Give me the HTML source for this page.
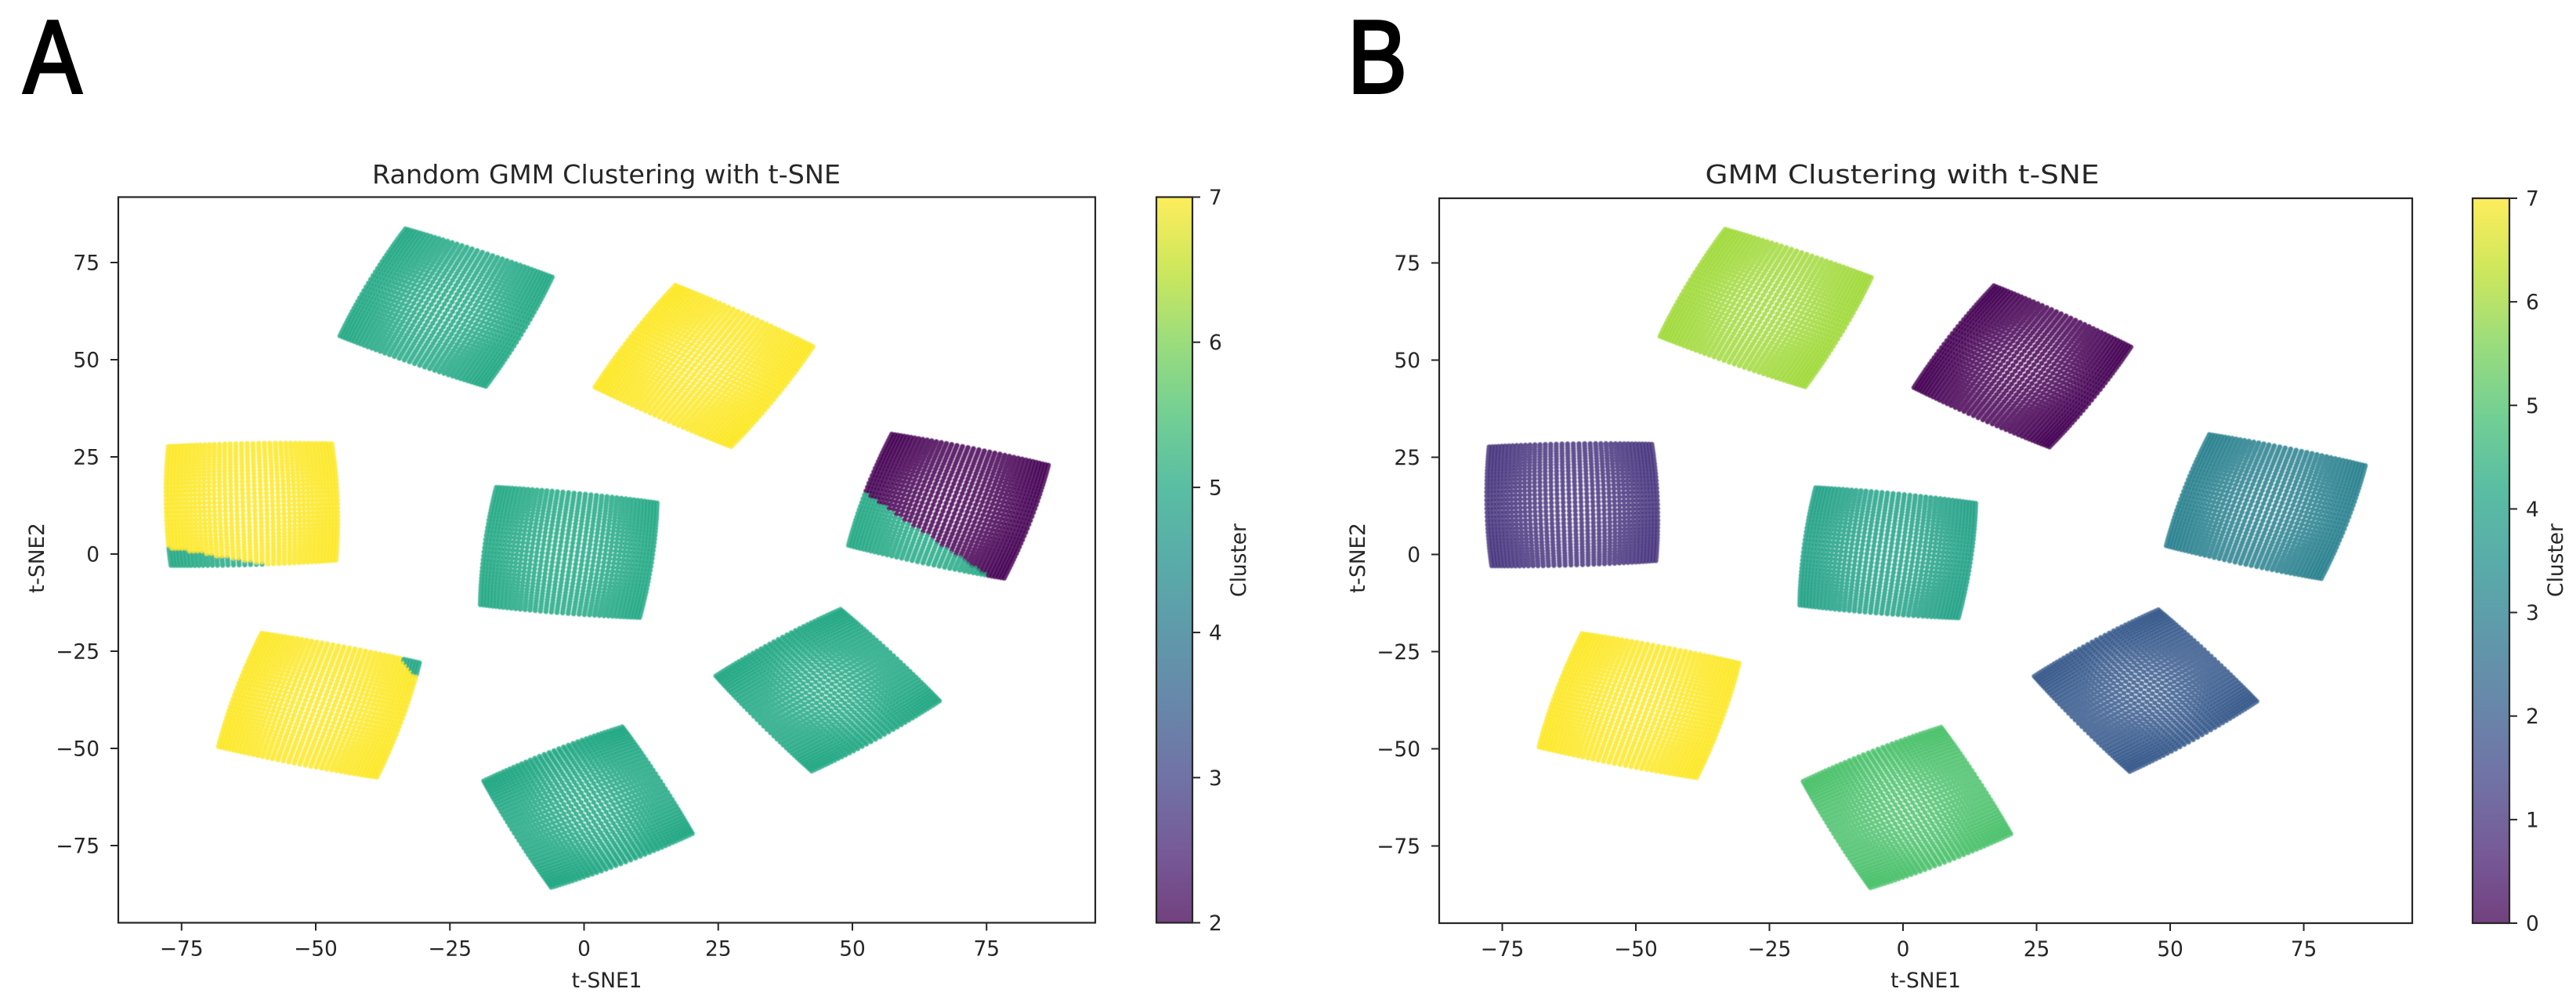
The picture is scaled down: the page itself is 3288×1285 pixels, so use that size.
<!DOCTYPE html>
<html lang="en">
<head>
<meta charset="utf-8">
<title>GMM Clustering with t-SNE</title>
<style>
html,body{margin:0;padding:0;background:#fff;width:3288px;height:1285px;overflow:hidden}
svg{display:block}
text{font-family:"DejaVu Sans","Liberation Sans",sans-serif;fill:#262626}
</style>
</head>
<body>
<svg id="figure" xmlns="http://www.w3.org/2000/svg" width="3288" height="1285" viewBox="0 0 3288 1285">
<defs><filter id="soften" x="-2%" y="-2%" width="104%" height="104%"><feGaussianBlur stdDeviation="0.6"/></filter></defs>
<text transform="translate(67 118) scale(.84 1)" text-anchor="middle" font-size="132" stroke="#000" stroke-width="4" style="font-family:'Liberation Sans',sans-serif;fill:#000">A</text>
<text transform="translate(1758 118) scale(.86 1)" text-anchor="middle" font-size="132" stroke="#000" stroke-width="4" style="font-family:'Liberation Sans',sans-serif;fill:#000">B</text>
</svg>
<script>
// ---- chart data (data units) ----
const clusterCornersX = [
  [-33.6, -5.1, -18.0, -46.3],
  [16.8, 43.5, 27.6, 1.2],
  [56.9, 87.3, 78.7, 48.5],
  [-78.1, -46.4, -45.6, -77.6],
  [-16.9, 14.3, 10.9, -20.0],
  [-60.5, -29.9, -38.2, -68.9],
  [7.4, 21.0, -6.4, -19.5],
  [47.9, 67.1, 42.3, 23.7]
];
const clusterCornersY = [
  [84.5, 71.6, 42.3, 55.8],
  [70.0, 53.6, 26.8, 42.7],
  [31.6, 23.3, -7.0, 1.8],
  [28.3, 29.0, -2.2, -3.6],
  [17.9, 13.7, -17.0, -13.6],
  [-19.6, -27.5, -58.2, -50.0],
  [-43.6, -72.2, -86.6, -58.1],
  [-13.4, -37.9, -56.7, -31.2]
];
const labelsRandomGmm = [5, 7, 2, 7, 5, 7, 5, 5];
const labelsGmm = [6, 0, 3, 1, 4, 7, 5, 2];
// Panel A: clusters whose points are partly reassigned, and the boundary line in data units
const splitClusters = [2, 3, 5];
const splitLabels = [5, 5, 5];
const splitStartX = [51.7, -78.2, -30.6];
const splitStartY = [16.1, 1.8, -32.9];
const splitEndX = [75.4, -56.9, -35.0];
const splitEndY = [-6.0, -3.2, -25.5];
const xTicks = [-75, -50, -25, 0, 25, 50, 75];
const yTicks = [-75, -50, -25, 0, 25, 50, 75];
const colorbarTicksA = [2, 3, 4, 5, 6, 7];
const colorbarTicksB = [0, 1, 2, 3, 4, 5, 6, 7];
const viridis = ['#440154','#482475','#414487','#355f8d','#2a788e','#21918c','#22a884','#44bf70','#7ad151','#bddf26','#fde725'];

// ---- layout ----
const NS = 'http://www.w3.org/2000/svg';
const svg = document.getElementById('figure');
const LATTICE = 38, DOT = 6.4, ALPHA = 0.85, INK = '#262626';

function node(tag, attrs, parent) {
  const e = document.createElementNS(NS, tag);
  for (const k in attrs) e.setAttribute(k, attrs[k]);
  parent.appendChild(e);
  return e;
}
function fmt(v) { return v < 0 ? '\u2212' + Math.abs(v) : String(v); }
function hexRgb(h) { return [1, 3, 5].map(i => parseInt(h.substr(i, 2), 16)); }
function viridisAt(t) {
  const p = Math.max(0, Math.min(1, t)) * (viridis.length - 1);
  const i = Math.min(viridis.length - 2, Math.floor(p));
  const a = hexRgb(viridis[i]), b = hexRgb(viridis[i + 1]), f = p - i;
  return 'rgb(' + a.map((c, k) => Math.round(c + (b[k] - c) * f)).join(',') + ')';
}
function warp(t) { return 0.022 + 0.956 * (t - 0.3 * Math.sin(2 * Math.PI * t) / (2 * Math.PI)); }
function latticePoint(c, i, j) {
  const u0 = i / (LATTICE - 1), v0 = j / (LATTICE - 1);
  const u = warp(u0), v = warp(v0);
  const X = clusterCornersX[c], Y = clusterCornersY[c];
  const bil = P => P[0] * (1 - u) * (1 - v) + P[1] * u * (1 - v) + P[2] * u * v + P[3] * (1 - u) * v;
  const du = P => ((P[1] + P[2]) - (P[0] + P[3])) / 2;
  const dv = P => ((P[2] + P[3]) - (P[0] + P[1])) / 2;
  const bu = 0.024 * (2 * u - 1) * (1 - (2 * v - 1) * (2 * v - 1));
  const bv = 0.016 * (2 * v - 1) * (1 - (2 * u - 1) * (2 * u - 1));
  return [bil(X) + bu * du(X) + bv * dv(X), bil(Y) + bu * du(Y) + bv * dv(Y)];
}
function pointLabel(c, p, labels, useSplits) {
  if (useSplits) {
    const s = splitClusters.indexOf(c);
    if (s >= 0) {
      const dx = splitEndX[s] - splitStartX[s], dy = splitEndY[s] - splitStartY[s];
      if (dx * (p[1] - splitStartY[s]) - dy * (p[0] - splitStartX[s]) < 0) return splitLabels[s];
    }
  }
  return labels[c];
}

function drawPanel(cfg) {
  const g = node('g', {}, svg);
  
  
  const sx = v => cfg.x0 + v * cfg.xs;
  const sy = v => cfg.y0 - v * cfg.ys;
  const cy = v => cfg.bottom - (v - cfg.cMin) / (cfg.cMax - cfg.cMin) * (cfg.bottom - cfg.top);

  const plot = node('g', { filter: 'url(#soften)' }, g);
  
  
  clusterCornersX.forEach((_, c) => {
    const cg = node('g', {}, plot);
    
    
    for (let i = 0; i < LATTICE; i++) {
      const runs = {};
      for (let j = 0; j < LATTICE; j++) {
        const p = latticePoint(c, i, j);
        const l = pointLabel(c, p, cfg.labels, cfg.useSplits);
        runs[l] = (runs[l] || '') + 'M' + sx(p[0]).toFixed(1) + ' ' + sy(p[1]).toFixed(1) + 'h0';
      }
      for (const l in runs) {
        const col = node('path', {
          d: runs[l], fill: 'none',
          stroke: viridisAt((l - cfg.cMin) / (cfg.cMax - cfg.cMin)),
          'stroke-width': DOT, 'stroke-linecap': 'round', 'stroke-opacity': ALPHA
        }, cg);
        
        
      }
    }
  });

  const frame = node('rect', {
    x: cfg.left, y: cfg.top, width: cfg.right - cfg.left, height: cfg.bottom - cfg.top,
    fill: 'none', stroke: INK, 'stroke-width': 2.2
  }, g);
  
  

  xTicks.forEach(v => {
    const t = node('line', { x1: sx(v), x2: sx(v), y1: cfg.bottom, y2: cfg.bottom + 10, stroke: INK, 'stroke-width': 2 }, g);
    
    
    const l = node('text', { x: sx(v), y: cfg.bottom + 42, 'text-anchor': 'middle', 'font-size': 26.4 }, g);
    l.textContent = fmt(v);
    
    
  });
  yTicks.forEach(v => {
    const t = node('line', { x1: cfg.left - 10, x2: cfg.left, y1: sy(v), y2: sy(v), stroke: INK, 'stroke-width': 2 }, g);
    
    
    const l = node('text', { x: cfg.left - 24, y: sy(v) + 9.5, 'text-anchor': 'end', 'font-size': 26.4 }, g);
    l.textContent = fmt(v);
    
    
  });

  const title = node('text', {
    x: cfg.titleX, y: 234, 'text-anchor': 'middle', 'font-size': 33,
    textLength: cfg.titleWidth, lengthAdjust: 'spacingAndGlyphs'
  }, g);
  title.textContent = cfg.title;
  
  
  const xt = node('text', { x: (cfg.left + cfg.right) / 2, y: 1260, 'text-anchor': 'middle', 'font-size': 26.4 }, g);
  xt.textContent = 't-SNE1';
  
  
  const yt = node('text', { transform: 'translate(' + (cfg.left - 95) + ' 712) rotate(-90)', 'text-anchor': 'middle', 'font-size': 26.4 }, g);
  yt.textContent = 't-SNE2';
  
  

  // colorbar
  const defs = node('defs', {}, g);
  const grad = node('linearGradient', { id: cfg.id + '-gradient', x1: 0, y1: 1, x2: 0, y2: 0 }, defs);
  viridis.forEach((c, i) => {
    node('stop', { offset: i / (viridis.length - 1), 'stop-color': c, 'stop-opacity': 0.75 }, grad);
  });
  const bar = node('rect', {
    x: cfg.cbLeft, y: cfg.top, width: cfg.cbRight - cfg.cbLeft, height: cfg.bottom - cfg.top,
    fill: 'url(#' + cfg.id + '-gradient)', stroke: INK, 'stroke-width': 2.2
  }, g);
  
  
  cfg.cTicks.forEach(v => {
    const t = node('line', { x1: cfg.cbRight, x2: cfg.cbRight + 10, y1: cy(v), y2: cy(v), stroke: INK, 'stroke-width': 2 }, g);
    
    
    const l = node('text', { x: cfg.cbRight + 21, y: cy(v) + 9.5, 'font-size': 26.4 }, g);
    l.textContent = fmt(v);
    
    
  });
  const ct = node('text', { transform: 'translate(' + (cfg.cbRight + 68) + ' 715) rotate(-90)', 'text-anchor': 'middle', 'font-size': 26.4 }, g);
  ct.textContent = 'Cluster';
  
  
}

drawPanel({
  id: 'random-gmm', title: 'Random GMM Clustering with t-SNE', titleX: 774, titleWidth: 598,
  left: 151, right: 1398, top: 251.5, bottom: 1177.5,
  x0: 745.5, xs: 6.85, y0: 707, ys: 4.96,
  cbLeft: 1476, cbRight: 1522, cMin: 2, cMax: 7, cTicks: colorbarTicksA,
  labels: labelsRandomGmm, useSplits: true
});
drawPanel({
  id: 'gmm', title: 'GMM Clustering with t-SNE', titleX: 2428, titleWidth: 503,
  left: 1837, right: 3079, top: 253, bottom: 1178,
  x0: 2429, xs: 6.82, y0: 707.5, ys: 4.96,
  cbLeft: 3156, cbRight: 3203, cMin: 0, cMax: 7, cTicks: colorbarTicksB,
  labels: labelsGmm, useSplits: false
});
</script>
</body>
</html>
